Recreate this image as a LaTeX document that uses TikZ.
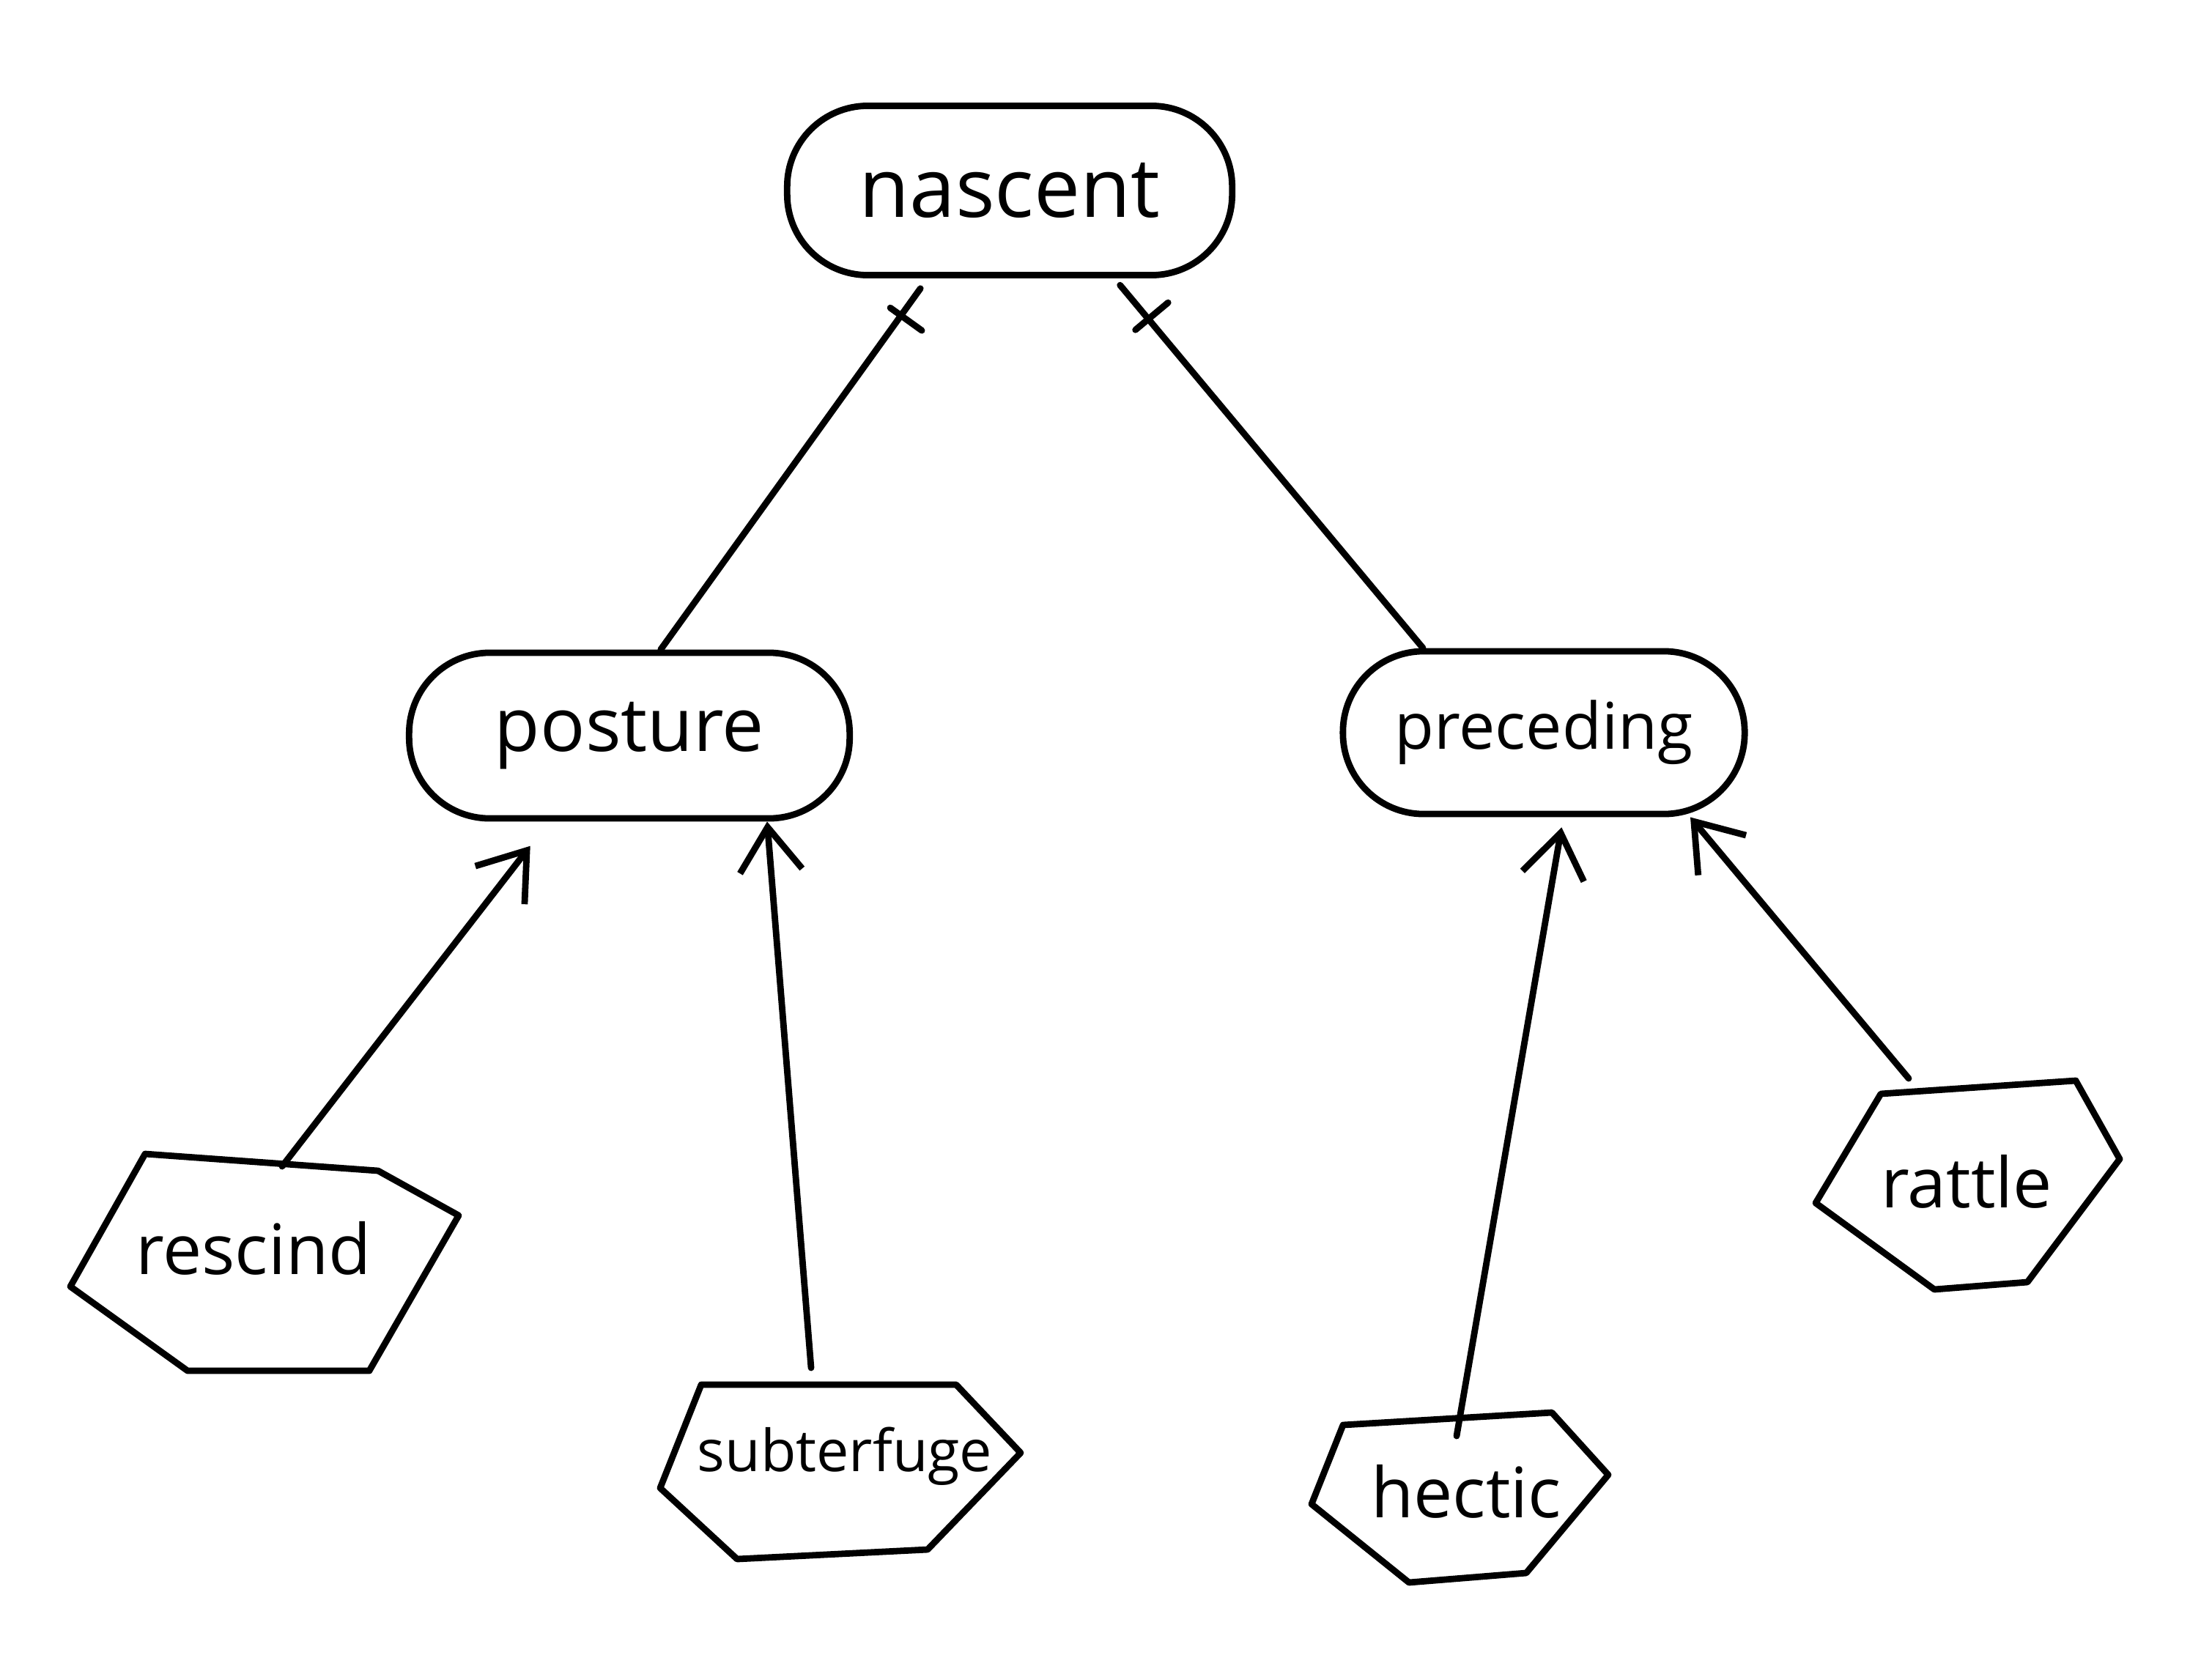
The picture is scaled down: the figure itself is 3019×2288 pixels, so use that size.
\documentclass[tikz,border=0pt]{standalone}
\usepackage{fontspec}
\setmainfont{Open Sans}
\usetikzlibrary{arrows.meta,decorations.markings}

% outline of a hand-drawn hexagon around a word node: six vertex offsets from its centre
\newcommand\drawhexagon[7]{%
  \draw[stroke] ([shift={#2}]#1.center) -- ([shift={#3}]#1.center)
    -- ([shift={#4}]#1.center) -- ([shift={#5}]#1.center)
    -- ([shift={#6}]#1.center) -- ([shift={#7}]#1.center) -- cycle;}

\begin{document}
\begin{tikzpicture}[x=0.01cm, y=-0.01cm,
  stroke/.style={line width=2.5pt, line cap=round, line join=round},
  word/.style={font=\fontsize{27}{32}\selectfont, inner sep=0pt},
  pill/.style={stroke, draw, rectangle, rounded corners=1.1cm, word},
  flow/.style={stroke, -{Straight Barb[length=0.6cm, width=0.85cm]}},
  tickedge/.style={stroke, postaction={decorate},
    decoration={markings, mark=at position #1 with
      {\draw[stroke] (0,-0.35cm) -- (0,0.35cm);}}},
]
\fill[white] (0,0) rectangle (3019,2288);
\useasboundingbox (0,0) rectangle (3019,2288);

% rounded boxes
\node[pill, minimum width=6.07cm, minimum height=2.31cm,
      font=\fontsize{32}{38}\selectfont] (nascent) at (1378,260) {nascent};
\node[pill, minimum width=6.01cm, minimum height=2.26cm,
      font=\fontsize{29}{34}\selectfont] (posture) at (859,1004) {posture};
\node[pill, minimum width=5.48cm, minimum height=2.22cm,
      font=\fontsize{25}{30}\selectfont] (preceding) at (2107,1000) {preceding};

% hexagon leaves
\node[word] (rescind) at (346,1704) {rescind};
\drawhexagon{rescind}{(-148,-129)}{(170,-106)}{(280,-45)}{(158,167)}{(-90,167)}{(-250,52)}

\node[word, font=\fontsize{22.5}{27}\selectfont] (subterfuge) at (1153,1988) {subterfuge};
\drawhexagon{subterfuge}{(-196,-98)}{(152,-98)}{(240,-5)}{(113,127)}{(-147,140)}{(-252,43)}

\node[word] (hectic) at (2001,2036) {hectic};
\drawhexagon{hectic}{(-168,-91)}{(117,-108)}{(194,-23)}{(82,111)}{(-78,124)}{(-211,17)}

\node[word] (rattle) at (2684,1613) {rattle};
\drawhexagon{rattle}{(-117,-120)}{(149,-138)}{(209,-31)}{(83,137)}{(-44,147)}{(-206,29)}

% links to the root, each crossed by a tick
\draw[tickedge=0.9, shorten >=0.17cm] (posture.70) -- (nascent.227);
\draw[tickedge=0.89, shorten >=0.12cm] (preceding.145) -- (nascent.320);

% arrows from the leaves
\draw[flow, shorten >=0.42cm] ([shift={(39,-112)}]rescind.center) -- (posture.227);
\draw[flow] ([shift={(-46,-121)}]subterfuge.center) -- (posture.328);
\draw[flow, shorten >=0.14cm] ([shift={(-13,-76)}]hectic.center) -- (preceding.283);
\draw[flow] ([shift={(-79,-141)}]rattle.center) -- (preceding.330);
\end{tikzpicture}
\end{document}
